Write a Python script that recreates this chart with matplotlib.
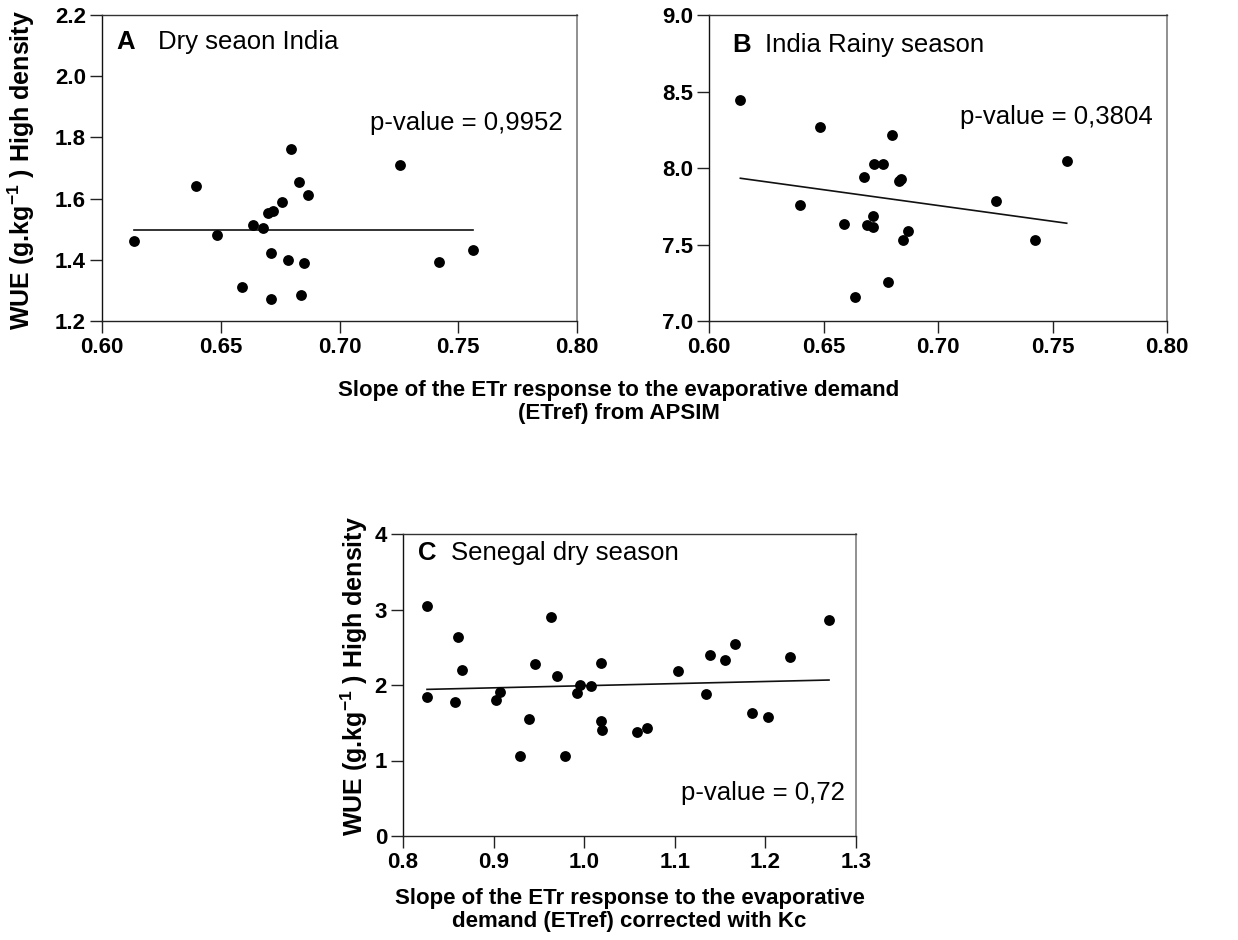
import numpy as np
import matplotlib
matplotlib.use("Agg")
import matplotlib.pyplot as plt

plt.rcParams['font.family'] = ['Liberation Sans', 'DejaVu Sans']
plt.rcParams['mathtext.fontset'] = 'custom'
plt.rcParams['mathtext.rm'] = 'Liberation Sans'
plt.rcParams['mathtext.bf'] = 'Liberation Sans:bold'
plt.rcParams['mathtext.it'] = 'Liberation Sans:italic'

# ---------------- data ----------------
a_x = [0.6136, 0.6396, 0.6485, 0.6590, 0.6635, 0.6677, 0.6697, 0.6719, 0.6712, 0.6712,
       0.6757, 0.6784, 0.6796, 0.6829, 0.6837, 0.6850, 0.6869, 0.7253, 0.7421, 0.7562]
a_y = [1.462, 1.642, 1.481, 1.311, 1.514, 1.505, 1.553, 1.558, 1.422, 1.273,
       1.588, 1.400, 1.763, 1.653, 1.284, 1.391, 1.613, 1.711, 1.392, 1.433]

b_x = [0.6137, 0.6396, 0.6486, 0.6591, 0.6636, 0.6677, 0.6692, 0.6714, 0.6714, 0.6719,
       0.6759, 0.6781, 0.6799, 0.6828, 0.6838, 0.6849, 0.6870, 0.7252, 0.7424, 0.7562]
b_y = [8.444, 7.759, 8.265, 7.635, 7.159, 7.940, 7.626, 7.685, 7.617, 8.023,
       8.029, 7.253, 8.213, 7.914, 7.929, 7.528, 7.591, 7.785, 7.530, 8.045]

c_x = [0.8265, 0.8269, 0.8575, 0.8608, 0.8652, 0.9032, 0.9069, 0.9293, 0.9393, 0.9459,
       0.9629, 0.9699, 0.9791, 0.9923, 0.9949, 1.0071, 1.0189, 1.0189, 1.0200, 1.0587,
       1.0690, 1.1040, 1.1342, 1.1386, 1.1559, 1.1659, 1.1850, 1.2024, 1.2270, 1.2702]
c_y = [3.049, 1.845, 1.770, 2.637, 2.195, 1.805, 1.912, 1.066, 1.553, 2.279,
       2.903, 2.119, 1.058, 1.898, 1.996, 1.987, 2.292, 1.527, 1.407, 1.376,
       1.429, 2.186, 1.881, 2.398, 2.327, 2.549, 1.633, 1.571, 2.376, 2.863]

# regression lines (y at first and last x)
a_fit = [1.498, 1.498]
b_fit = [7.933, 7.639]
c_fit = [1.942, 2.066]

ab_xticks = [0.60, 0.65, 0.70, 0.75, 0.80]
a_yticks = [1.2, 1.4, 1.6, 1.8, 2.0, 2.2]
b_yticks = [7.0, 7.5, 8.0, 8.5, 9.0]
c_xticks = [0.8, 0.9, 1.0, 1.1, 1.2, 1.3]
c_yticks = [0, 1, 2, 3, 4]

panel_letters = ['A', 'B', 'C']
panel_titles = ['Dry seaon India', 'India Rainy season', 'Senegal dry season']
pvalues = ['p-value = 0,9952', 'p-value = 0,3804', 'p-value = 0,72']

ylabel_txt = r'WUE (g.kg$^{\mathbf{-1}}$ ) High density'
xlabel_top = 'Slope of the ETr response to the evaporative demand\n(ETref) from APSIM'
xlabel_c = 'Slope of the ETr response to the evaporative\ndemand (ETref) corrected with Kc'

# ---------------- figure ----------------
W, H = 1238, 940
fig = plt.figure(figsize=(W / 100, H / 100), dpi=100)

def px_axes(x0, y0, x1, y1):
    return fig.add_axes([x0 / W, 1 - y1 / H, (x1 - x0) / W, (y1 - y0) / H])

axA = px_axes(102, 15, 577, 321)
axB = px_axes(709, 15, 1167, 321)
axC = px_axes(403, 534, 856, 836)

TICKFS = 16
TXTFS = 18.5
YLABFS = 18

def style(ax, xt, yt, xfmt, yfmt):
    ax.set_xlim(xt[0], xt[-1])
    ax.set_ylim(yt[0], yt[-1])
    ax.set_xticks(xt)
    ax.set_yticks(yt)
    ax.set_xticklabels([xfmt.format(v) for v in xt], fontsize=TICKFS, fontweight='bold')
    ax.set_yticklabels([yfmt.format(v) for v in yt], fontsize=TICKFS, fontweight='bold')
    ax.tick_params(direction='out', length=8.5, width=1.0, color='#222222', pad=3)
    ax.spines['left'].set_color('#111111')
    ax.spines['bottom'].set_color('#222222')
    ax.spines['top'].set_color('#333333')
    ax.spines['right'].set_color('#888888')
    ax.spines['right'].set_linewidth(1.3)
    for s in ['left', 'bottom', 'top']:
        ax.spines[s].set_linewidth(1.0)

def panel(ax, xs, ys, fit, letter, title, pval, lpos, tpos, ppos):
    ax.plot(xs, ys, 'o', color='black', markersize=7.8, markeredgewidth=0, zorder=3)
    ax.plot([min(xs), max(xs)], fit, '-', color='#111111', linewidth=1.2, zorder=2)
    ax.text(lpos[0], lpos[1], letter, transform=ax.transAxes, fontsize=TXTFS,
            fontweight='bold', va='center', ha='left')
    ax.text(tpos[0], tpos[1], title, transform=ax.transAxes, fontsize=TXTFS,
            va='center', ha='left')
    ax.text(ppos[0], ppos[1], pval, transform=ax.transAxes, fontsize=TXTFS,
            va='center', ha='right')

style(axA, ab_xticks, a_yticks, '{:.2f}', '{:.1f}')
style(axB, ab_xticks, b_yticks, '{:.2f}', '{:.1f}')
style(axC, c_xticks, c_yticks, '{:.1f}', '{:d}')

panel(axA, a_x, a_y, a_fit, panel_letters[0], panel_titles[0], pvalues[0],
      (0.030, 0.912), (0.117, 0.912), (0.970, 0.648))
panel(axB, b_x, b_y, b_fit, panel_letters[1], panel_titles[1], pvalues[1],
      (0.050, 0.903), (0.122, 0.903), (0.969, 0.668))
panel(axC, c_x, c_y, c_fit, panel_letters[2], panel_titles[2], pvalues[2],
      (0.034, 0.937), (0.107, 0.937), (0.976, 0.142))

axA.set_ylabel(ylabel_txt, fontsize=YLABFS, fontweight='bold', va='center')
axA.yaxis.set_label_coords(-0.170, 0.494)
axC.set_ylabel(ylabel_txt, fontsize=YLABFS, fontweight='bold', va='center')
axC.yaxis.set_label_coords(-0.108, 0.53)

fig.text(619 / W, 1 - 402 / H, xlabel_top, fontsize=TICKFS, fontweight='bold',
         ha='center', va='center', linespacing=1.1)
fig.text(629.5 / W, 1 - 910 / H, xlabel_c, fontsize=TICKFS, fontweight='bold',
         ha='center', va='center', linespacing=1.1)

fig.savefig('out.png', dpi=100)
